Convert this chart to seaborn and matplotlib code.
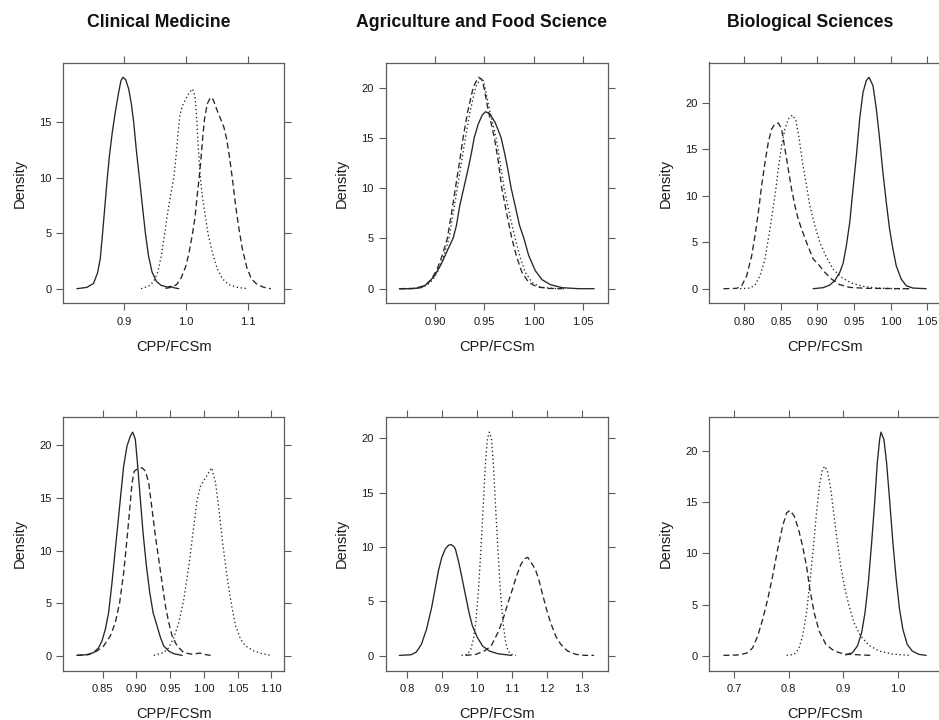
import matplotlib
matplotlib.use("Agg")
import matplotlib.pyplot as plt
import seaborn as sns
import pandas as pd

# ---------------- data ----------------
COLUMN_TITLES = ["Clinical Medicine", "Agriculture and Food Science", "Biological Sciences"]
X_LABEL = "CPP/FCSm"
Y_LABEL = "Density"

# Row 1 / Clinical Medicine
CM1_SOLID_X = [0.8238, 0.8400, 0.8508, 0.8573, 0.8616, 0.8654, 0.8692, 0.8730, 0.8768, 0.8811, 0.8859, 0.8914, 0.8951, 0.8984, 0.9027, 0.9076, 0.9119, 0.9157, 0.9200, 0.9249, 0.9297, 0.9346, 0.9395, 0.9454, 0.9524, 0.9600, 0.9697, 0.9751, 0.9805, 0.9886]
CM1_SOLID_Y = [0.00, 0.12, 0.48, 1.44, 2.70, 5.01, 7.50, 9.99, 12.15, 14.10, 15.90, 17.70, 18.75, 19.05, 18.84, 18.00, 16.65, 15.00, 12.45, 9.99, 7.50, 5.01, 3.00, 1.50, 0.66, 0.30, 0.15, 0.21, 0.09, 0.00]
CM1_DOT_X = [0.9276, 0.9400, 0.9481, 0.9546, 0.9605, 0.9659, 0.9708, 0.9762, 0.9805, 0.9843, 0.9876, 0.9903, 0.9946, 1.0000, 1.0054, 1.0108, 1.0146, 1.0173, 1.0200, 1.0227, 1.0265, 1.0314, 1.0357, 1.0427, 1.0508, 1.0589, 1.0697, 1.0832, 1.0995]
CM1_DOT_Y = [0.00, 0.24, 0.66, 1.50, 3.00, 5.01, 6.90, 8.70, 9.99, 12.00, 14.10, 15.60, 16.50, 17.10, 17.64, 18.00, 17.40, 15.60, 12.90, 10.50, 8.40, 6.60, 5.01, 3.30, 1.80, 0.90, 0.36, 0.12, 0.00]
CM1_DASH_X = [0.9670, 0.9762, 0.9849, 0.9924, 0.9995, 1.0049, 1.0103, 1.0146, 1.0184, 1.0216, 1.0249, 1.0276, 1.0303, 1.0346, 1.0400, 1.0443, 1.0497, 1.0562, 1.0616, 1.0659, 1.0703, 1.0751, 1.0805, 1.0859, 1.0914, 1.0984, 1.1059, 1.1157, 1.1265, 1.1373]
CM1_DASH_Y = [0.03, 0.12, 0.36, 0.96, 1.95, 3.15, 4.80, 6.30, 8.40, 9.99, 12.00, 13.80, 15.30, 16.65, 17.25, 17.04, 16.20, 15.30, 14.55, 13.50, 12.00, 9.99, 7.50, 5.40, 3.60, 1.95, 0.90, 0.36, 0.12, 0.00]

# Row 1 / Agriculture and Food Science
AF1_SOLID_X = [0.8635, 0.8754, 0.8857, 0.8925, 0.8993, 0.9061, 0.9130, 0.9181, 0.9215, 0.9249, 0.9290, 0.9334, 0.9369, 0.9396, 0.9437, 0.9478, 0.9512, 0.9556, 0.9608, 0.9642, 0.9669, 0.9703, 0.9737, 0.9771, 0.9812, 0.9857, 0.9901, 0.9949, 1.0017, 1.0085, 1.0171, 1.0290, 1.0461, 1.0614]
AF1_SOLID_Y = [0.00, 0.00, 0.10, 0.53, 1.29, 2.45, 3.95, 5.01, 6.27, 8.26, 10.02, 11.91, 13.57, 15.02, 16.38, 17.28, 17.61, 17.38, 16.55, 15.72, 15.02, 13.57, 11.91, 10.02, 8.26, 6.27, 5.01, 3.32, 1.79, 0.90, 0.40, 0.10, 0.00, 0.00]
AF1_DASH_X = [0.8635, 0.8788, 0.8891, 0.8959, 0.9020, 0.9068, 0.9123, 0.9164, 0.9205, 0.9246, 0.9283, 0.9328, 0.9386, 0.9437, 0.9471, 0.9495, 0.9539, 0.9601, 0.9642, 0.9676, 0.9727, 0.9778, 0.9829, 0.9881, 0.9949, 1.0034, 1.0154, 1.0290]
AF1_DASH_Y = [0.00, 0.03, 0.30, 0.90, 1.96, 3.22, 5.01, 7.43, 10.02, 12.57, 15.02, 17.55, 20.03, 21.03, 20.86, 20.03, 17.71, 15.02, 12.57, 10.02, 7.43, 5.01, 3.12, 1.63, 0.63, 0.17, 0.03, 0.00]
AF1_DOT_X = [0.8652, 0.8805, 0.8908, 0.8976, 0.9038, 0.9085, 0.9140, 0.9181, 0.9225, 0.9266, 0.9307, 0.9352, 0.9410, 0.9461, 0.9488, 0.9505, 0.9553, 0.9618, 0.9659, 0.9700, 0.9754, 0.9812, 0.9863, 0.9915, 0.9983, 1.0068, 1.0188, 1.0324]
AF1_DOT_Y = [0.00, 0.03, 0.30, 0.90, 1.96, 3.22, 5.01, 7.43, 10.02, 12.57, 15.02, 17.55, 20.03, 20.93, 20.70, 20.03, 17.71, 15.02, 12.57, 10.02, 7.43, 5.01, 3.12, 1.63, 0.63, 0.17, 0.03, 0.00]

# Row 1 / Biological Sciences
BS1_SOLID_X = [0.8941, 0.9077, 0.9168, 0.9236, 0.9305, 0.9350, 0.9395, 0.9441, 0.9486, 0.9532, 0.9577, 0.9623, 0.9668, 0.9705, 0.9759, 0.9805, 0.9850, 0.9895, 0.9941, 0.9986, 1.0032, 1.0077, 1.0145, 1.0214, 1.0305, 1.0486]
BS1_SOLID_Y = [0.00, 0.11, 0.39, 0.86, 1.76, 2.72, 4.62, 7.13, 10.72, 14.30, 18.24, 21.11, 22.37, 22.72, 21.83, 19.32, 16.09, 12.51, 9.28, 6.42, 4.27, 2.47, 1.04, 0.32, 0.07, 0.00]
BS1_DASH_X = [0.7714, 0.7895, 0.7964, 0.8032, 0.8100, 0.8145, 0.8191, 0.8236, 0.8282, 0.8327, 0.8373, 0.8418, 0.8464, 0.8509, 0.8555, 0.8600, 0.8645, 0.8691, 0.8736, 0.8782, 0.8850, 0.8941, 0.9009, 0.9100, 0.9191, 0.9305, 0.9441, 0.9668, 1.0259]
BS1_DASH_Y = [0.00, 0.04, 0.32, 1.40, 3.55, 5.70, 8.21, 11.08, 13.58, 15.73, 17.17, 17.71, 17.81, 17.17, 15.02, 12.87, 10.72, 8.92, 7.49, 6.42, 4.98, 3.19, 2.65, 1.76, 1.04, 0.43, 0.14, 0.04, 0.00]
BS1_DOT_X = [0.7941, 0.8077, 0.8145, 0.8214, 0.8282, 0.8350, 0.8418, 0.8464, 0.8509, 0.8555, 0.8600, 0.8659, 0.8705, 0.8750, 0.8795, 0.8850, 0.8895, 0.8964, 0.9032, 0.9123, 0.9214, 0.9327, 0.9464, 0.9623, 0.9805, 1.0077, 1.0259]
BS1_DOT_Y = [0.00, 0.07, 0.39, 1.40, 3.19, 6.42, 10.00, 12.87, 15.38, 17.17, 18.24, 18.67, 18.06, 16.09, 13.58, 11.08, 8.92, 6.77, 4.98, 3.37, 2.11, 1.22, 0.61, 0.25, 0.07, 0.00, 0.00]

# Row 2 / Clinical Medicine
CM2_SOLID_X = [0.8119, 0.8267, 0.8366, 0.8441, 0.8490, 0.8540, 0.8589, 0.8639, 0.8688, 0.8728, 0.8772, 0.8812, 0.8861, 0.8911, 0.8946, 0.8985, 0.9020, 0.9059, 0.9099, 0.9149, 0.9198, 0.9248, 0.9307, 0.9356, 0.9406, 0.9480, 0.9554, 0.9678]
CM2_SOLID_Y = [0.03, 0.10, 0.29, 0.76, 1.39, 2.50, 4.09, 6.94, 10.11, 12.65, 15.50, 18.03, 19.94, 20.89, 21.27, 20.57, 18.03, 14.87, 11.70, 8.53, 6.02, 4.09, 2.82, 1.74, 0.92, 0.44, 0.19, 0.03]
CM2_DASH_X = [0.8119, 0.8292, 0.8416, 0.8515, 0.8614, 0.8688, 0.8752, 0.8812, 0.8861, 0.8901, 0.8936, 0.8970, 0.9020, 0.9084, 0.9134, 0.9183, 0.9233, 0.9282, 0.9332, 0.9381, 0.9431, 0.9480, 0.9530, 0.9604, 0.9703, 0.9827, 0.9941, 1.0025, 1.0099]
CM2_DASH_Y = [0.03, 0.10, 0.44, 0.92, 1.87, 3.14, 5.04, 7.89, 11.06, 13.91, 16.45, 17.56, 17.78, 17.88, 17.56, 16.45, 13.91, 11.38, 9.16, 6.94, 4.72, 3.14, 1.87, 0.92, 0.29, 0.13, 0.25, 0.10, 0.03]
CM2_DOT_X = [0.9257, 0.9406, 0.9480, 0.9554, 0.9629, 0.9703, 0.9777, 0.9851, 0.9901, 0.9950, 1.0025, 1.0114, 1.0173, 1.0223, 1.0272, 1.0322, 1.0371, 1.0421, 1.0470, 1.0545, 1.0619, 1.0743, 1.0866, 1.0990]
CM2_DOT_Y = [0.03, 0.29, 0.76, 1.71, 3.14, 5.36, 8.53, 12.33, 14.87, 16.13, 16.93, 17.88, 16.45, 13.91, 11.06, 8.53, 6.31, 4.41, 2.82, 1.55, 0.92, 0.44, 0.19, 0.03]

# Row 2 / Agriculture and Food Science
AF2_SOLID_X = [0.7786, 0.8126, 0.8272, 0.8417, 0.8563, 0.8709, 0.8806, 0.8903, 0.9000, 0.9097, 0.9194, 0.9272, 0.9340, 0.9388, 0.9485, 0.9583, 0.9680, 0.9777, 0.9874, 1.0019, 1.0165, 1.0359, 1.0602, 1.0990]
AF2_SOLID_Y = [0.03, 0.09, 0.34, 1.05, 2.43, 4.43, 6.12, 7.82, 9.05, 9.82, 10.18, 10.22, 10.06, 9.82, 8.58, 7.05, 5.51, 3.97, 2.74, 1.66, 0.89, 0.43, 0.18, 0.03]
AF2_DOT_X = [0.9563, 0.9728, 0.9825, 0.9903, 0.9971, 1.0049, 1.0117, 1.0184, 1.0243, 1.0301, 1.0359, 1.0417, 1.0476, 1.0534, 1.0602, 1.0670, 1.0748, 1.0825, 1.0893, 1.0990, 1.1117]
AF2_DOT_Y = [0.03, 0.12, 0.58, 1.51, 3.05, 6.12, 9.82, 13.82, 17.51, 19.97, 20.58, 19.97, 17.51, 13.82, 9.82, 6.12, 3.05, 1.20, 0.43, 0.12, 0.03]
AF2_DASH_X = [0.9680, 0.9971, 1.0214, 1.0408, 1.0602, 1.0748, 1.0893, 1.1019, 1.1136, 1.1262, 1.1379, 1.1456, 1.1553, 1.1670, 1.1767, 1.1864, 1.1990, 1.2107, 1.2252, 1.2398, 1.2592, 1.2835, 1.3078, 1.3350]
AF2_DASH_Y = [0.03, 0.12, 0.43, 0.89, 2.12, 3.35, 4.89, 6.12, 7.35, 8.43, 8.95, 9.05, 8.58, 7.97, 7.05, 5.82, 4.28, 3.05, 1.82, 1.05, 0.43, 0.12, 0.03, 0.03]

# Row 2 / Biological Sciences
BS2_SOLID_X = [0.9042, 0.9164, 0.9255, 0.9333, 0.9394, 0.9455, 0.9515, 0.9570, 0.9618, 0.9661, 0.9685, 0.9739, 0.9788, 0.9842, 0.9903, 0.9964, 1.0024, 1.0085, 1.0164, 1.0255, 1.0376, 1.0509]
BS2_SOLID_Y = [0.07, 0.29, 0.94, 2.25, 4.20, 7.13, 11.04, 14.95, 18.86, 21.14, 21.86, 21.14, 18.86, 15.28, 11.04, 7.46, 4.53, 2.57, 1.11, 0.46, 0.13, 0.03]
BS2_DASH_X = [0.6812, 0.7103, 0.7255, 0.7345, 0.7436, 0.7527, 0.7618, 0.7709, 0.7800, 0.7891, 0.7964, 0.8024, 0.8103, 0.8182, 0.8255, 0.8327, 0.8388, 0.8467, 0.8558, 0.8679, 0.8830, 0.9012, 0.9224, 0.9497]
BS2_DASH_Y = [0.03, 0.07, 0.29, 0.78, 1.92, 3.55, 5.50, 7.79, 10.39, 12.67, 13.97, 14.20, 13.65, 12.35, 10.72, 8.76, 6.48, 4.20, 2.41, 1.11, 0.46, 0.16, 0.10, 0.03]
BS2_DOT_X = [0.7964, 0.8103, 0.8182, 0.8255, 0.8327, 0.8388, 0.8448, 0.8509, 0.8570, 0.8618, 0.8661, 0.8709, 0.8770, 0.8830, 0.8891, 0.8952, 0.9030, 0.9103, 0.9194, 0.9315, 0.9467, 0.9648, 0.9891, 1.0194]
BS2_DOT_Y = [0.03, 0.13, 0.62, 1.92, 4.20, 7.13, 10.39, 13.97, 16.91, 18.21, 18.53, 18.05, 16.25, 13.65, 11.04, 8.76, 6.48, 4.85, 3.22, 1.92, 1.01, 0.46, 0.16, 0.03]

# tick values / labels
CM1_XTICKS = [0.9, 1.0, 1.1]
AF1_XTICKS = [0.90, 0.95, 1.00, 1.05]
BS1_XTICKS = [0.80, 0.85, 0.90, 0.95, 1.00, 1.05]
CM2_XTICKS = [0.85, 0.90, 0.95, 1.00, 1.05, 1.10]
AF2_XTICKS = [0.8, 0.9, 1.0, 1.1, 1.2, 1.3]
BS2_XTICKS = [0.7, 0.8, 0.9, 1.0]
CM1_XDEC, AF1_XDEC, BS1_XDEC, CM2_XDEC, AF2_XDEC, BS2_XDEC = 1, 2, 2, 2, 1, 1
CM1_YTICKS = [0, 5, 10, 15]
OTHER_YTICKS = [0, 5, 10, 15, 20]

# ---------------- style ----------------
sns.set_theme(style="ticks")
plt.rcParams["font.family"] = ["Liberation Sans", "DejaVu Sans"]

W, H = 939, 720
fig = plt.figure(figsize=(W / 100, H / 100), dpi=100)
fig.patch.set_facecolor("white")

COL_LEFT = [63.3, 385.7, 709.3]
COL_W = [221.0, 222.0, 231.0]
ROW_TOP = [62.5, 416.5]
ROW_H = [241.0, 254.5]
TITLE_X = [159.0, 482.0, 809.7]

LINE_COLOR = "#262626"
FRAME_COLOR = "#5c5c5c"
DASHES = {"solid": "", "dashed": (4.5, 2.6), "dotted": (1.0, 2.0)}

panels = [
    (0, 0, [(CM1_SOLID_X, CM1_SOLID_Y, "solid"), (CM1_DOT_X, CM1_DOT_Y, "dotted"), (CM1_DASH_X, CM1_DASH_Y, "dashed")], CM1_XTICKS, CM1_XDEC, CM1_YTICKS),
    (0, 1, [(AF1_SOLID_X, AF1_SOLID_Y, "solid"), (AF1_DOT_X, AF1_DOT_Y, "dotted"), (AF1_DASH_X, AF1_DASH_Y, "dashed")], AF1_XTICKS, AF1_XDEC, OTHER_YTICKS),
    (0, 2, [(BS1_SOLID_X, BS1_SOLID_Y, "solid"), (BS1_DOT_X, BS1_DOT_Y, "dotted"), (BS1_DASH_X, BS1_DASH_Y, "dashed")], BS1_XTICKS, BS1_XDEC, OTHER_YTICKS),
    (1, 0, [(CM2_SOLID_X, CM2_SOLID_Y, "solid"), (CM2_DOT_X, CM2_DOT_Y, "dotted"), (CM2_DASH_X, CM2_DASH_Y, "dashed")], CM2_XTICKS, CM2_XDEC, OTHER_YTICKS),
    (1, 1, [(AF2_SOLID_X, AF2_SOLID_Y, "solid"), (AF2_DOT_X, AF2_DOT_Y, "dotted"), (AF2_DASH_X, AF2_DASH_Y, "dashed")], AF2_XTICKS, AF2_XDEC, OTHER_YTICKS),
    (1, 2, [(BS2_SOLID_X, BS2_SOLID_Y, "solid"), (BS2_DOT_X, BS2_DOT_Y, "dotted"), (BS2_DASH_X, BS2_DASH_Y, "dashed")], BS2_XTICKS, BS2_XDEC, OTHER_YTICKS),
]

for row, col, curves, xticks, xdec, yticks in panels:
    left, width = COL_LEFT[col], COL_W[col]
    top, height = ROW_TOP[row], ROW_H[row]
    ax = fig.add_axes([left / W, 1 - (top + height) / H, width / W, height / H])

    frames = [pd.DataFrame({"x": xs, "y": ys, "series": name}) for xs, ys, name in curves]
    df = pd.concat(frames, ignore_index=True)
    sns.lineplot(data=df, x="x", y="y", style="series", dashes=DASHES,
                 color=LINE_COLOR, estimator=None, sort=False, legend=False,
                 linewidth=0.95, ax=ax)

    # lattice-like limits: data range extended by 7 %
    xmin, xmax = df["x"].min(), df["x"].max()
    ymin, ymax = df["y"].min(), df["y"].max()
    xr, yr = xmax - xmin, ymax - ymin
    ax.set_xlim(xmin - 0.07 * xr, xmax + 0.07 * xr)
    ax.set_ylim(ymin - 0.07 * yr, ymax + 0.07 * yr)

    ax.set_xticks(xticks)
    ax.set_xticklabels([f"{v:.{xdec}f}" for v in xticks])
    ax.set_yticks(yticks)
    ax.set_yticklabels([str(v) for v in yticks])

    ax.grid(False)
    ax.set_facecolor("white")
    for s in ax.spines.values():
        s.set_visible(True)
        s.set_color(FRAME_COLOR)
        s.set_linewidth(0.9)
    ax.tick_params(axis="both", which="major", direction="out", length=5, width=0.8,
                   color=FRAME_COLOR, labelsize=8, labelcolor="#1a1a1a",
                   top=True, right=True, bottom=True, left=True,
                   labeltop=False, labelright=False)
    ax.tick_params(axis="x", pad=4.5)
    ax.tick_params(axis="y", pad=3.5)

    ax.set_xlabel(X_LABEL, fontsize=10.5, color="#1a1a1a")
    ax.xaxis.label.set_va("baseline")
    ax.xaxis.set_label_coords(0.5, -47.5 / height)
    ax.set_ylabel(Y_LABEL, fontsize=10.5, color="#1a1a1a")
    ax.yaxis.label.set_va("center")
    ax.yaxis.label.set_ha("center")
    ax.yaxis.set_label_coords(-43.8 / width, 0.5)

for i, title in enumerate(COLUMN_TITLES):
    fig.text(TITLE_X[i] / W, 1 - 26.6 / H, title, ha="center", va="baseline",
             fontsize=12.7, fontweight="bold", color="#111111")

fig.savefig("out.png", dpi=100, facecolor="white")
